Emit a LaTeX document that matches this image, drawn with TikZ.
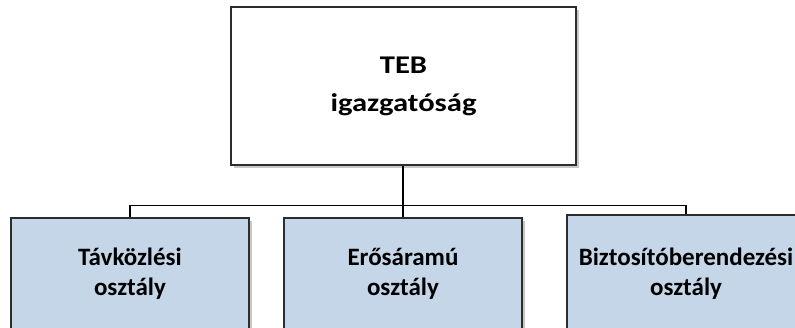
\documentclass[tikz,border=0pt]{standalone}
\usepackage{fontspec}
\setmainfont{Carlito}
\newfontfamily\headfont[FakeStretch=1.2]{Carlito}
\usetikzlibrary{shadows}
\definecolor{unitfill}{RGB}{197,214,232}
\definecolor{edgegrey}{RGB}{45,45,45}
\tikzset{
  orgbox/.style={draw=edgegrey, line width=1.4pt, inner sep=0pt, align=center,
    drop shadow={shadow xshift=2.5pt, shadow yshift=-2.5pt, fill=black!22, opacity=1}},
  headbox/.style={orgbox, fill=white, minimum width=345pt, minimum height=158pt,
    font=\headfont\fontsize{25.5}{38}\selectfont\bfseries},
  unitbox/.style={orgbox, fill=unitfill, minimum width=238pt,
    font=\fontsize{25}{30}\selectfont\bfseries},
  link/.style={draw=black, line width=1.3pt}
}
\begin{document}
\begin{tikzpicture}[x=1pt, y=-1pt]
  \useasboundingbox (0,0) rectangle (795,327);
  \clip (0,0) rectangle (795,327);
  \fill[white] (0,0) rectangle (795,327);

  % directorate
  \node[headbox] (teb) at (403.5,86) {TEB\\igazgatóság};

  % departments
  \node[unitbox, minimum height=112pt] (tav) at (130,274) {Távközlési\\osztály};
  \node[unitbox, minimum height=112pt] (ero) at (403,274) {Erősáramú\\osztály};
  \node[unitbox, minimum height=118pt] (bizt) at (686,274) {Biztosítóberendezési\\osztály};

  % tree connectors
  \coordinate (bus) at (403,205.5);
  \draw[link] (teb.south -| bus) -- (bus);
  \draw[link] (tav.north) |- (bus) -| (bizt.north);
  \draw[link] (bus) -- (ero.north);
\end{tikzpicture}
\end{document}
